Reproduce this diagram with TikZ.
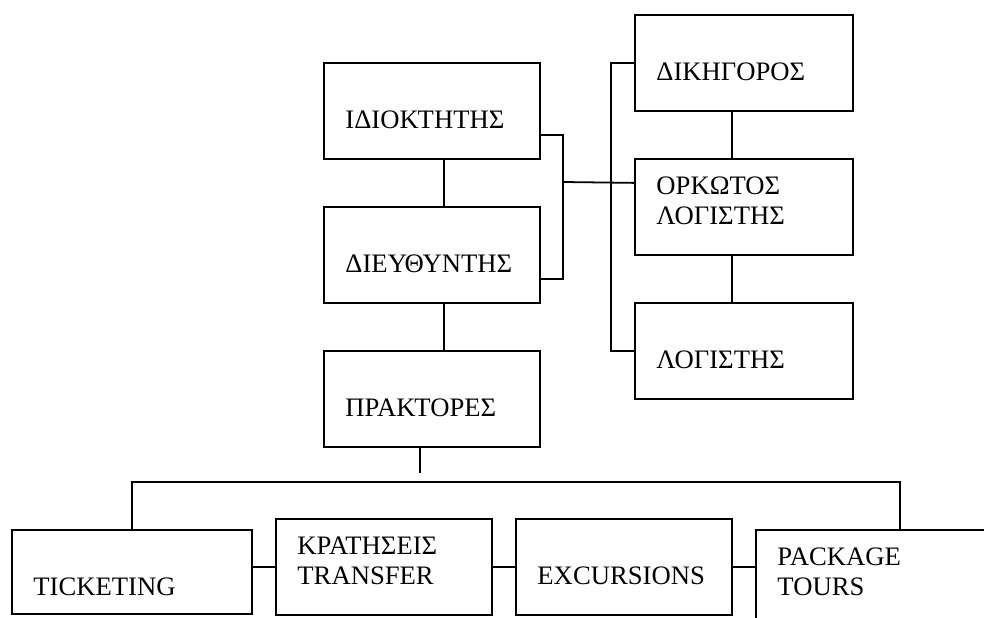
\documentclass[tikz,border=0pt]{standalone}
\usepackage{fontspec}
\setmainfont{Liberation Serif}
\usetikzlibrary{calc}
\tikzset{
  bx/.style={draw, line width=.8pt, anchor=north west, align=left,
    inner xsep=9.7pt, inner ysep=0pt, text height=16.2pt, text depth=27pt,
    text width=#1*.45pt-19.4pt},
  ln/.style={line width=.8pt}
}
\begin{document}
\begin{tikzpicture} [x=.45pt, y=-.45pt, font=\fontsize{12pt}{13.5pt}\selectfont]
  \useasboundingbox (0,0) rectangle (984,617);
  \clip (0,0) rectangle (984,617);
  % left column
  \node [bx=216] (own) at (323,62) {\\ΙΔΙΟΚΤΗΤΗΣ};
  \node [bx=216] (dir) at (323,206) {\\ΔΙΕΥΘΥΝΤΗΣ};
  \node [bx=216] (agt) at (323,350) {\\ΠΡΑΚΤΟΡΕΣ};
  % right column
  \node [bx=218] (law) at (634,14) {\\ΔΙΚΗΓΟΡΟΣ};
  \node [bx=218] (cacc) at (634,158) {ΟΡΚΩΤΟΣ\\ΛΟΓΙΣΤΗΣ};
  \node [bx=218] (acc) at (634,302) {\\ΛΟΓΙΣΤΗΣ};
  % bottom row
  \node [bx=240, text depth=21.6pt] (tick) at (11,529) {\\TICKETING};
  \node [bx=216] (trf) at (275,518) {ΚΡΑΤΗΣΕΙΣ\\TRANSFER};
  \node [bx=216] (exc) at (515,518) {\\EXCURSIONS};
  \node [bx=288] (pkg) at (755,529) {PACKAGE\\TOURS};
  % vertical links
  \draw [ln] ($(own.south)+(12,0)$) -- ($(dir.north)+(12,0)$);
  \draw [ln] ($(dir.south)+(12,0)$) -- ($(agt.north)+(12,0)$);
  \draw [ln] ($(law.south)+(-12,0)$) -- ($(cacc.north)+(-12,0)$);
  \draw [ln] ($(cacc.south)+(-12,0)$) -- ($(acc.north)+(-12,0)$);
  % bracket to the right column
  \coordinate (jn) at (563,182);
  \draw [ln] ($(own.east)+(0,24)$) -| (jn) |- ($(dir.east)+(0,24)$);
  \draw [ln] (jn) -- ($(cacc.west)+(0,-24)$);
  \coordinate (rv) at (611,0);
  \draw [ln] (law.west) -| (rv |- acc.west) -- (acc.west);
  % bottom tree
  \coordinate (stub) at ($(agt.south)+(-12,25)$);
  \draw [ln] ($(agt.south)+(-12,0)$) -- (stub);
  \draw [ln] (tick.north) -- ++(0,-47) -| (pkg.north);
  \draw [ln] (tick.east |- trf.west) -- (trf.west);
  \draw [ln] (trf.east) -- (exc.west);
  \draw [ln] (exc.east) -- (exc.east -| pkg.west);
\end{tikzpicture}
\end{document}
